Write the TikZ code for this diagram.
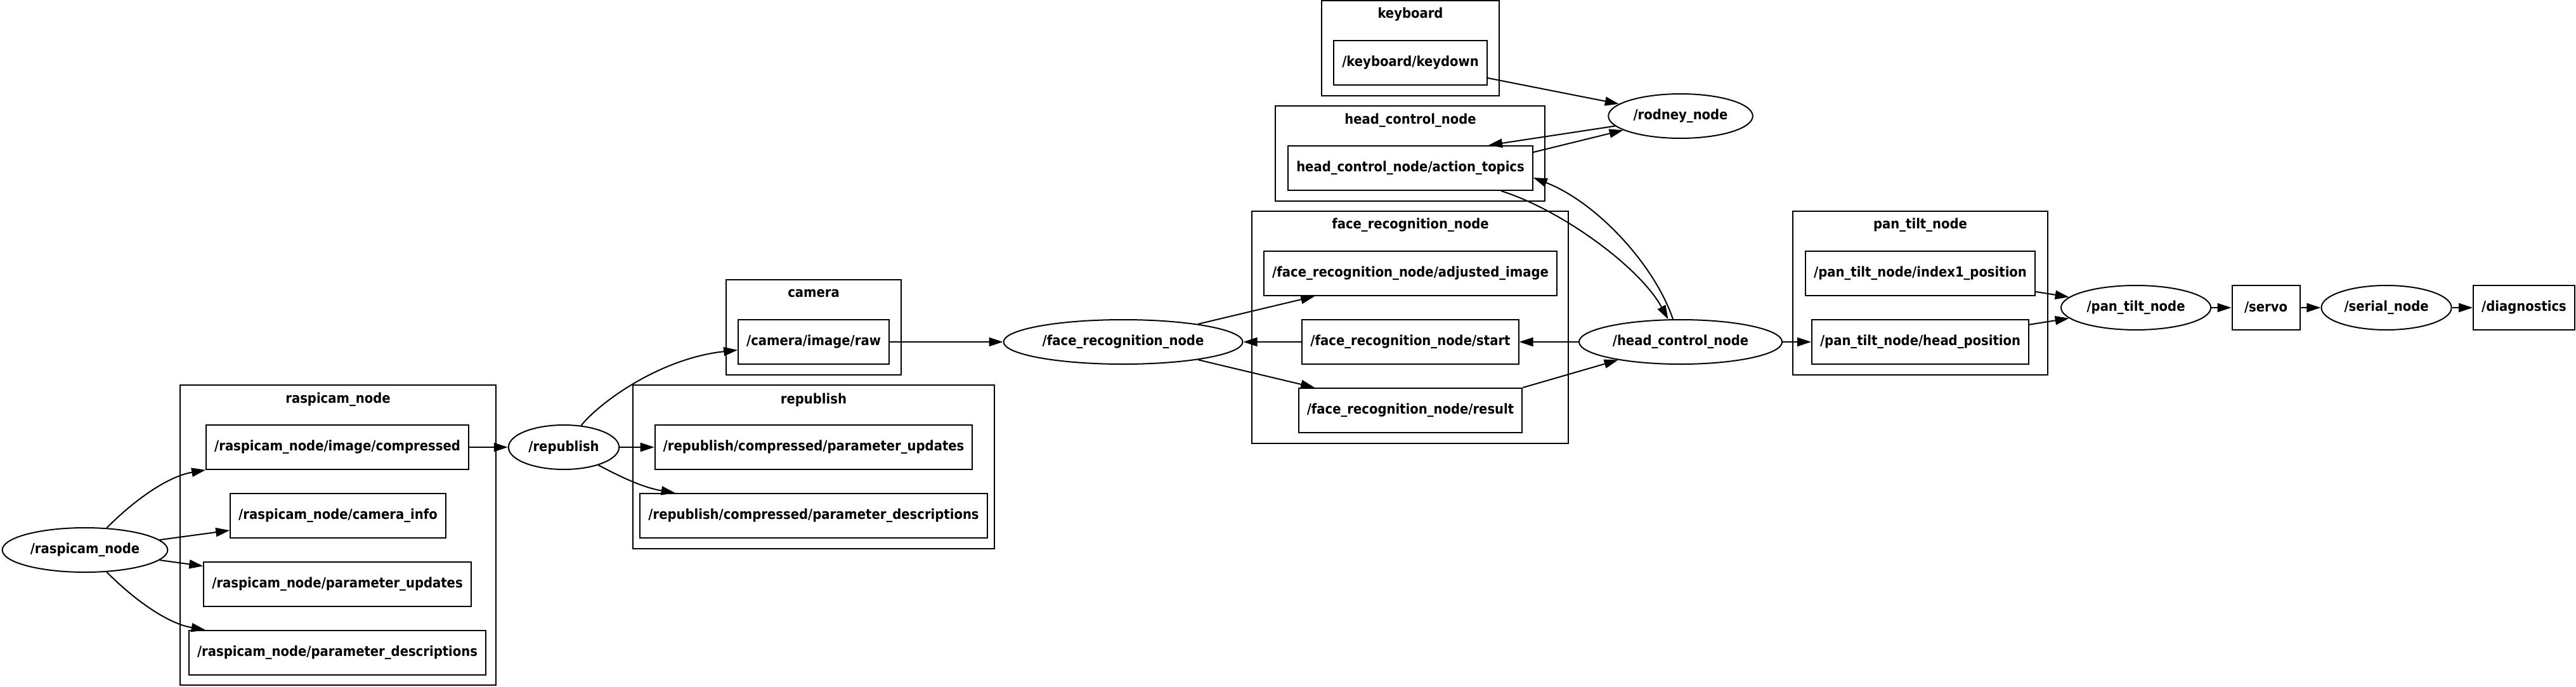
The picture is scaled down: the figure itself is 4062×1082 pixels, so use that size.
\documentclass[tikz,border=0pt]{standalone}
\usepackage{fontspec}
\setmainfont{DejaVu Sans Condensed}
\usetikzlibrary{arrows.meta,shapes.geometric}
\begin{document}
\begin{tikzpicture}[x=0.5pt,y=-0.5pt,
  every node/.style={font=\fontsize{10.9}{13}\selectfont\bfseries},
  topic/.style={draw,rectangle,line width=1pt,minimum height=35pt,minimum width=53.5pt,inner xsep=6.5pt},
  rosnode/.style={draw,ellipse,line width=1pt,minimum height=35pt,inner xsep=3pt,inner ysep=0pt},
  group/.style={line width=1pt},
  msg/.style={line width=1pt,-{Triangle[length=11pt,width=7pt]}}]
\useasboundingbox (0,0) rectangle (4062,1082);
\draw[group] (284,607) rectangle (782,1080);
\node (raspicamlbl) at (533,630) {raspicam\_node};
\draw[group] (1145,441) rectangle (1421,591);
\node (cameralbl) at (1283,463) {camera};
\draw[group] (998,607) rectangle (1568,865);
\node (republishlbl) at (1283,630) {republish};
\draw[group] (1974,333) rectangle (2473,699);
\node (facereclbl) at (2224,355) {face\_recognition\_node};
\draw[group] (2084,1) rectangle (2364,151);
\node (keyboardlbl) at (2224,23) {keyboard};
\draw[group] (2011,167) rectangle (2436,317);
\node (headctllbl) at (2224,190) {head\_control\_node};
\draw[group] (2827,333) rectangle (3229,591);
\node (pantiltlbl) at (3028,355) {pan\_tilt\_node};

\node[rosnode] (raspicam) at (134,867) {/raspicam\_node};
\node[topic] (compressed) at (532,705) {/raspicam\_node/image/compressed};
\node[topic] (caminfo) at (533,813) {/raspicam\_node/camera\_info};
\node[topic] (rcupdates) at (532,921) {/raspicam\_node/parameter\_updates};
\node[topic] (rcdescr) at (532,1029) {/raspicam\_node/parameter\_descriptions};
\node[rosnode] (republish) at (889,705) {/republish};
\node[topic] (rawimg) at (1283,539) {/camera/image/raw};
\node[topic] (rpupdates) at (1283,705) {/republish/compressed/parameter\_updates};
\node[topic] (rpdescr) at (1283,813) {/republish/compressed/parameter\_descriptions};
\node[rosnode] (facerec) at (1771,539) {/face\_recognition\_node};
\node[topic] (adjusted) at (2224,431) {/face\_recognition\_node/adjusted\_image};
\node[topic] (frstart) at (2224,539) {/face\_recognition\_node/start};
\node[topic] (frresult) at (2224,647) {/face\_recognition\_node/result};
\node[topic] (keydown) at (2224,99) {/keyboard/keydown};
\node[topic] (actions) at (2224,265) {head\_control\_node/action\_topics};
\node[rosnode] (rodney) at (2650,183) {/rodney\_node};
\node[rosnode] (headctl) at (2650,539) {/head\_control\_node};
\node[topic] (index1) at (3028,431) {/pan\_tilt\_node/index1\_position};
\node[topic] (headpos) at (3028,539) {/pan\_tilt\_node/head\_position};
\node[rosnode] (pantilt) at (3368,485) {/pan\_tilt\_node};
\node[topic] (servo) at (3573,485) {/servo};
\node[rosnode] (serial) at (3763,485) {/serial\_node};
\node[topic] (diag) at (3980,485) {/diagnostics};

\draw[msg] (raspicam) .. controls (205,795) and (260,752) .. (compressed);
\draw[msg] (raspicam) -- (caminfo);
\draw[msg] (raspicam) -- (rcupdates);
\draw[msg] (raspicam) .. controls (205,939) and (260,982) .. (rcdescr);
\draw[msg] (compressed) -- (republish);
\draw[msg] (republish) .. controls (945,635) and (1040,565) .. (rawimg);
\draw[msg] (republish) -- (rpupdates);
\draw[msg] (republish) .. controls (970,747) and (1010,768) .. (rpdescr);
\draw[msg] (rawimg) -- (facerec);
\draw[msg] (facerec) -- (adjusted);
\draw[msg] (frstart) -- (facerec);
\draw[msg] (facerec) -- (frresult);
\draw[msg] (headctl) -- (frstart);
\draw[msg] (frresult.north east) -- (headctl);
\draw[msg] (keydown) -- (rodney);
\draw[msg] (rodney) -- ([xshift=61.5pt]actions.north);
\draw[msg] ([yshift=12.5pt]actions.east) -- (rodney);
\draw[msg] ([xshift=71.5pt]actions.south) .. controls (2460,330) and (2585,420) .. (headctl);
\draw[msg] (headctl) .. controls (2610,420) and (2520,320) .. ([yshift=-7.5pt]actions.east);
\draw[msg] (headctl) -- (headpos);
\draw[msg] (index1) -- (pantilt);
\draw[msg] (headpos) -- (pantilt);
\draw[msg] (pantilt) -- (servo);
\draw[msg] (servo) -- (serial);
\draw[msg] (serial) -- (diag);
\end{tikzpicture}
\end{document}
